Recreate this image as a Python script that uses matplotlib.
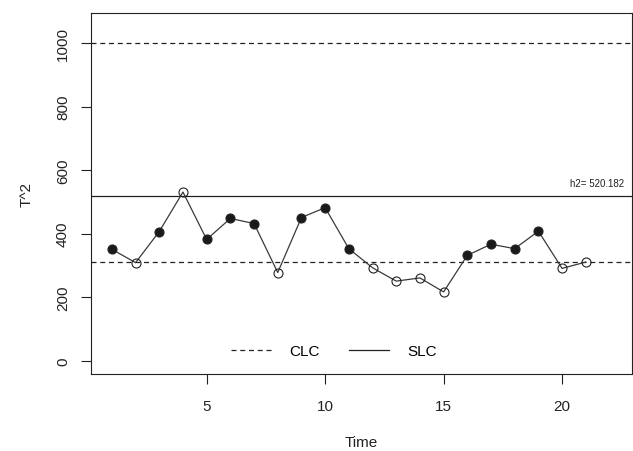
import matplotlib
matplotlib.use("Agg")
import matplotlib.pyplot as plt
from matplotlib.lines import Line2D

# data
time = list(range(1, 22))
t2 = [351, 309, 407, 531, 382, 448, 432, 278, 451, 482, 353,
      293, 251, 261, 217, 332, 367, 353, 408, 291, 311]
clc = 312
slc = 520.182
ucl = 1000
xticks = [5, 10, 15, 20]
yticks = [0, 200, 400, 600, 800, 1000]

plt.rcParams["font.family"] = ["Liberation Sans", "DejaVu Sans"]

fig = plt.figure(figsize=(6.33, 4.52), dpi=100)
ax = fig.add_axes([0.1438, 0.1704, 0.8546, 0.7986])

dash = (0, (4, 3))
ax.axhline(ucl, color="#222222", lw=0.9, ls=dash)
ax.axhline(clc, color="#222222", lw=0.9, ls=dash)
ax.axhline(slc, color="#222222", lw=0.9)

ax.plot(time, t2, color="#3a3a3a", lw=0.9, zorder=2)
for x, v in zip(time, t2):
    inside = clc < v < slc
    ax.plot(x, v, "o", ms=6.5, mew=0.8, mec="#222222",
            mfc="#1a1a1a" if inside else "none", zorder=3)

ax.text(22.62, slc + 29, "h2= %.3f" % slc, fontsize=7, ha="right",
        va="baseline", color="#222222")

ax.set_xlim(0.12, 22.95)
ax.set_ylim(-41, 1094)
ax.set_xticks(xticks)
ax.set_yticks(yticks)
ax.set_yticklabels([str(v) for v in yticks], rotation=90, va="center")
ax.tick_params(direction="out", length=7.2, width=0.8, labelsize=11,
               colors="#222222")
ax.tick_params(axis="x", pad=10.5)
ax.tick_params(axis="y", pad=8)
for s in ax.spines.values():
    s.set_linewidth(0.8)
    s.set_color("#222222")

ax.set_xlabel("Time", fontsize=11, labelpad=16.5, color="#222222")
ax.set_ylabel("T^2", fontsize=11, labelpad=16, color="#222222")

handles = [Line2D([], [], color="#222222", lw=0.9, ls=dash),
           Line2D([], [], color="#222222", lw=0.9)]
ax.legend(handles, ["CLC", "SLC"], loc="center", ncol=2,
          frameon=False, fontsize=11, handlelength=2.6, handletextpad=1.2,
          columnspacing=1.9, bbox_to_anchor=(0.449, 0.064))

fig.savefig("out.png", dpi=100)
